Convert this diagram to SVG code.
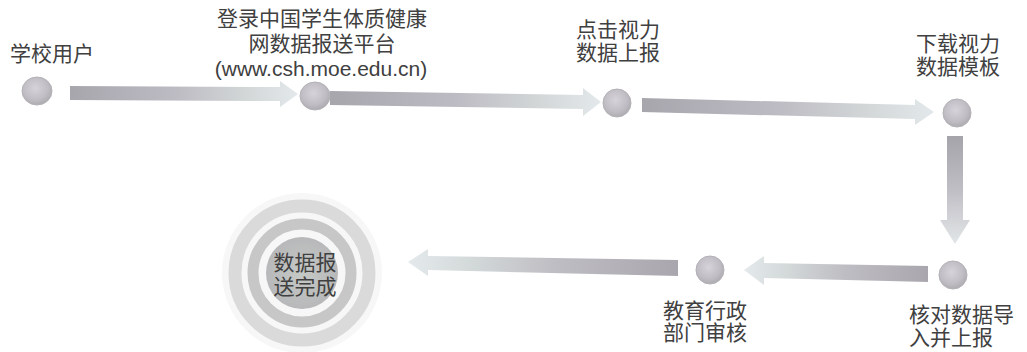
<svg xmlns="http://www.w3.org/2000/svg" width="1027" height="352" viewBox="0 0 1027 352">
<style>
  .lbl { font-family: "Liberation Sans", "Noto Sans CJK SC", sans-serif; font-size: 21px; fill: #404040; }
  .mid { text-anchor: middle; }
  .node { fill: url(#nodeGrad); stroke: #b4b2b7; stroke-width: 1; }
</style>
<defs>
  <radialGradient id="nodeGrad" cx="0.45" cy="0.4" r="0.6">
    <stop offset="0" stop-color="#d6d3da"/>
    <stop offset="0.7" stop-color="#bfbcc3"/>
    <stop offset="1" stop-color="#adacb0"/>
  </radialGradient>
  <linearGradient id="arrR" x1="0" y1="0" x2="1" y2="0">
    <stop offset="0" stop-color="#a8a6ad"/>
    <stop offset="0.45" stop-color="#bcbac2"/>
    <stop offset="0.75" stop-color="#d1d5d6"/>
    <stop offset="1" stop-color="#e3e8ea"/>
  </linearGradient>
  <linearGradient id="arrL" x1="1" y1="0" x2="0" y2="0">
    <stop offset="0" stop-color="#a9a7ad"/>
    <stop offset="0.45" stop-color="#bebdc3"/>
    <stop offset="0.75" stop-color="#d2d7d8"/>
    <stop offset="1" stop-color="#e4e9eb"/>
  </linearGradient>
  <linearGradient id="arrD" x1="0" y1="0" x2="0" y2="1">
    <stop offset="0" stop-color="#a6a4ab"/>
    <stop offset="0.5" stop-color="#c0bec5"/>
    <stop offset="1" stop-color="#e2e6e8"/>
  </linearGradient>
  <radialGradient id="discGrad" cx="0.5" cy="0.5" r="0.55">
    <stop offset="0" stop-color="#c6cac6"/>
    <stop offset="1" stop-color="#b6b6b8"/>
  </radialGradient>
</defs>
<rect width="1027" height="352" fill="#ffffff"/>

<g id="connectors">
  <polygon fill="url(#arrR)" points="70,86 280,87 280,81 298,94 280,107 280,101 70,100"/>
  <polygon fill="url(#arrR)" points="330,91 583,95 583,88 601,102 583,116 583,109 330,105"/>
  <polygon fill="url(#arrR)" points="642,98 915,105 915,99 934,112 915,125 915,119 642,112"/>
  <polygon fill="url(#arrD)" points="947,136 963,136 963,220 970,220 955,244 940,220 947,220"/>
  <polygon fill="url(#arrL)" points="928,266 764,263 764,256 744,270 764,285 764,278 928,282"/>
  <polygon fill="url(#arrL)" points="678,260 428,256 428,249 408,262 428,276 428,270 678,276"/>
</g>

<g id="n1">
  <ellipse class="node" cx="37" cy="91" rx="15" ry="14"/>
  <text class="lbl" x="10" y="61">学校用户</text>
</g>
<g id="n2">
  <ellipse class="node" cx="315" cy="96" rx="15" ry="14"/>
  <text class="lbl mid" x="322" y="26">登录中国学生体质健康</text>
  <text class="lbl mid" x="322" y="51">网数据报送平台</text>
  <text class="lbl mid" x="321" y="76">(www.csh.moe.edu.cn)</text>
</g>
<g id="n3">
  <ellipse class="node" cx="617" cy="103" rx="14" ry="14"/>
  <text class="lbl mid" x="618" y="37">点击视力</text>
  <text class="lbl mid" x="618" y="60">数据上报</text>
</g>
<g id="n4">
  <ellipse class="node" cx="957" cy="113" rx="14" ry="14"/>
  <text class="lbl mid" x="958" y="51">下载视力</text>
  <text class="lbl mid" x="958" y="74">数据模板</text>
</g>
<g id="n5">
  <ellipse class="node" cx="953" cy="275" rx="14" ry="14"/>
  <text class="lbl" x="909" y="322">核对数据导</text>
  <text class="lbl" x="909" y="345">入并上报</text>
</g>
<g id="n6">
  <ellipse class="node" cx="710" cy="270" rx="14" ry="14"/>
  <text class="lbl" x="663" y="318">教育行政</text>
  <text class="lbl" x="663" y="340">部门审核</text>
</g>
<g id="n7">
  <circle cx="302" cy="273" r="80" fill="#f7f7f7"/>
  <circle cx="302" cy="273" r="67" fill="none" stroke="#dadada" stroke-width="13"/>
  <circle cx="302" cy="273" r="49" fill="none" stroke="#c7c7c8" stroke-width="11"/>
  <circle cx="302" cy="273" r="36" fill="url(#discGrad)"/>
  <text class="lbl mid" x="305" y="270">数据报</text>
  <text class="lbl mid" x="305" y="294">送完成</text>
</g>
</svg>
